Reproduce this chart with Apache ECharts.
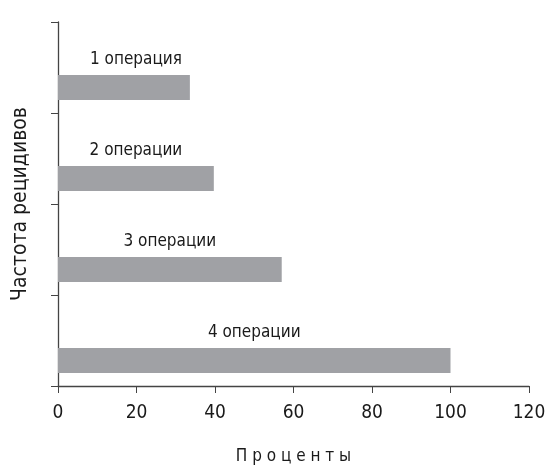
<!DOCTYPE html>
<html>
<head>
<meta charset="utf-8">
<script src="https://cdn.jsdelivr.net/npm/echarts@6/dist/echarts.min.js"></script>
<style>html,body{margin:0;padding:0;background:#fff;}#c{width:546px;height:466px;}</style>
</head>
<body>
<div id="c"></div>
<script>
const categories = ['1 операция', '2 операции', '3 операции', '4 операции'];
const values = [33.6, 39.7, 57, 100];
const xTicks = [0, 20, 40, 60, 80, 100, 120];
const yTitle = 'Частота рецидивов';
const xTitle = 'П р о ц е н т ы';

const FONT = "'DejaVu Sans Condensed', 'Liberation Sans Narrow', 'Liberation Sans', sans-serif";
const labelShift = {0: [12, 0]};
const chart = echarts.init(document.getElementById('c'), null, {renderer: 'canvas'});
chart.setOption({
  animation: false,
  grid: {left: 58, right: 17, top: 22, bottom: 80, containLabel: false, outerBoundsMode: 'none'},
  xAxis: {
    type: 'value', min: xTicks[0], max: xTicks[xTicks.length - 1], interval: 20,
    axisLine: {show: true, lineStyle: {color: '#444', width: 1.3}},
    axisTick: {show: true, length: 7, lineStyle: {color: '#444'}},
    splitLine: {show: false},
    axisLabel: {color: '#1a1a1a', fontSize: 19, fontFamily: FONT, margin: 18},
    name: xTitle, nameLocation: 'middle', nameGap: 62,
    nameTextStyle: {color: '#1a1a1a', fontSize: 17, fontFamily: FONT}
  },
  yAxis: {
    type: 'category', data: categories, inverse: true,
    axisLine: {show: true, lineStyle: {color: '#444', width: 1.3}},
    axisTick: {show: true, length: 7, lineStyle: {color: '#444'}},
    axisLabel: {show: false},
    name: yTitle, nameLocation: 'middle', nameGap: 27, nameRotate: 90,
    nameTextStyle: {color: '#1a1a1a', fontSize: 21, fontFamily: FONT}
  },
  series: [
    {type: 'bar', data: categories.map(() => null), barWidth: 25, barGap: '60%', itemStyle: {color: 'transparent'}, silent: true},
    {type: 'bar', barWidth: 25, barGap: '60%',
     itemStyle: {color: '#a0a1a5'},
     data: values.map((v, i) => ({value: v, label: {offset: labelShift[i] || [0, 0]}})),
     label: {show: true, position: 'top', distance: 7, formatter: p => categories[p.dataIndex],
       color: '#1a1a1a', fontSize: 17, fontFamily: FONT}
    }
  ]
});
</script>
</body>
</html>
